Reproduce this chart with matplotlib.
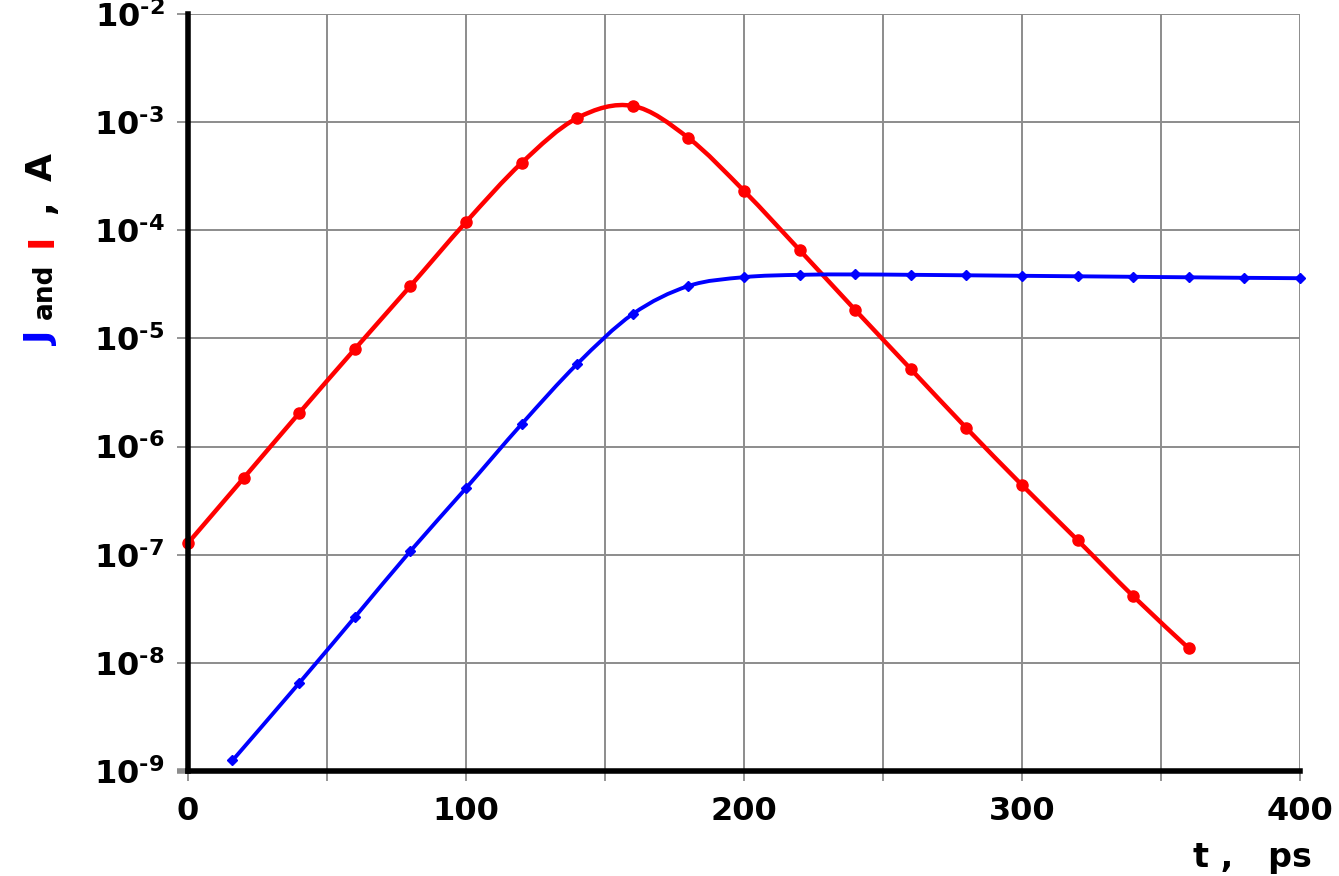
import numpy as np
import matplotlib
matplotlib.use('Agg')
import matplotlib.pyplot as plt
from matplotlib.path import Path
from matplotlib.patches import PathPatch
from matplotlib.ticker import MultipleLocator, NullLocator, FuncFormatter

# Current I (red) and J (blue) vs time, ps
t_I = [0, 20, 40, 60, 80, 100, 120, 140, 160, 180, 200, 220, 240, 260, 280, 300, 320, 340, 360]
I_vals = [1.28e-7, 5.1e-7, 2.04e-6, 7.96e-6, 3.05e-5, 1.19e-4, 4.19e-4, 1.09e-3, 1.41e-3, 7.13e-4,
          2.31e-4, 6.56e-5, 1.83e-5, 5.2e-6, 1.48e-6, 4.4e-7, 1.36e-7, 4.13e-8, 1.36e-8]

t_J = [16, 40, 60, 80, 100, 120, 140, 160, 180, 200, 220, 240, 260, 280, 300, 320, 340, 360, 380, 400]
J_vals = [1.25e-9, 6.5e-9, 2.64e-8, 1.08e-7, 4.12e-7, 1.61e-6, 5.8e-6, 1.68e-5, 3.05e-5, 3.68e-5,
          3.87e-5, 3.9e-5, 3.87e-5, 3.83e-5, 3.79e-5, 3.75e-5, 3.71e-5, 3.67e-5, 3.63e-5, 3.6e-5]

y_decades = [1e-9, 1e-8, 1e-7, 1e-6, 1e-5, 1e-4, 1e-3, 1e-2]

RED = '#ff0000'
BLUE = '#0000ff'
GRID = '#8c8c8c'

plt.rcParams.update({
    'font.family': ['DejaVu Sans'],
    'font.weight': 'bold',
    'mathtext.fontset': 'dejavusans',
    'mathtext.default': 'bf',
})


def smooth_path(x, y):
    """Catmull-Rom style Bezier through the points, built in (t, log10 y) space."""
    pts = np.column_stack([np.asarray(x, float), np.log10(y)])
    ext = np.vstack([pts[0], pts, pts[-1]])
    verts = [pts[0]]
    codes = [Path.MOVETO]
    for i in range(len(pts) - 1):
        p0, p1, p2, p3 = ext[i], ext[i + 1], ext[i + 2], ext[i + 3]
        verts += [p1 + (p2 - p0) / 6, p2 - (p3 - p1) / 6, p2]
        codes += [Path.CURVE4] * 3
    verts = np.array(verts)
    verts[:, 1] = 10 ** verts[:, 1]
    return Path(verts, codes)


def decade_label(v, pos):
    n = int(round(np.log10(v)))
    sign = '\u2010' if n < 0 else ''
    return r'$10^{%s%d}$' % (sign, abs(n))


fig = plt.figure(figsize=(13.39, 8.76), dpi=100)
ax = fig.add_axes([0.1404, 0.1199, 0.8305, 0.8642])
ax.set_yscale('log')
ax.set_xlim(0, 400)
ax.set_ylim(y_decades[0], y_decades[-1])

ax.add_patch(PathPatch(smooth_path(t_I, I_vals), fill=False, edgecolor=RED,
                       lw=3.2, capstyle='round', joinstyle='round', zorder=3))
ax.plot(t_I, I_vals, 'o', color=RED, ms=8, zorder=4, clip_on=False)

ax.add_patch(PathPatch(smooth_path(t_J, J_vals), fill=False, edgecolor=BLUE,
                       lw=2.8, capstyle='round', joinstyle='round', zorder=3))
ax.plot(t_J, J_vals, 'D', color=BLUE, ms=5.5, zorder=4, clip_on=False)

# axes, ticks and grid
ax.xaxis.set_major_locator(MultipleLocator(100))
ax.xaxis.set_minor_locator(MultipleLocator(50))
ax.set_yticks(y_decades)
ax.yaxis.set_minor_locator(NullLocator())
ax.yaxis.set_major_formatter(FuncFormatter(decade_label))

ax.grid(True, which='both', axis='x', color=GRID, lw=1.4)
ax.grid(True, which='major', axis='y', color=GRID, lw=1.4)
ax.set_axisbelow(True)

ax.tick_params(axis='x', which='both', direction='out', length=7, width=1.3,
               color=GRID, labelsize=23, pad=11)
ax.tick_params(axis='y', which='major', direction='out', length=8, width=1.3,
               color=GRID, labelsize=23, pad=9)

for side in ('top', 'right'):
    ax.spines[side].set_visible(False)
for side in ('left', 'bottom'):
    ax.spines[side].set_linewidth(4)
    ax.spines[side].set_color('black')
    ax.spines[side].set_zorder(5)

# axis titles are drawn as figure text below, so drop the empty ones
for axis in (ax.xaxis, ax.yaxis):
    axis.label.set_visible(False)
    axis.get_offset_text().set_visible(False)

fig.canvas.draw()
ax.xaxis.get_major_ticks()[0].tick1line.set_color('black')
ax.xaxis.get_major_ticks()[0].tick1line.set_markeredgewidth(4)
ax.yaxis.get_major_ticks()[0].tick1line.set_color('black')
ax.yaxis.get_major_ticks()[0].tick1line.set_markeredgewidth(4)

fig.text(0.98, 0.0103, 't ,   ps', ha='right', va='baseline', fontsize=24)

ylab_x = 0.0388
for s, yc, color, size in [('J', 0.614, BLUE, 26), ('and', 0.668, 'black', 19),
                           ('I', 0.726, RED, 26), (',', 0.764, 'black', 26),
                           ('A', 0.809, 'black', 26)]:
    fig.text(ylab_x, yc, s, rotation=90, rotation_mode='anchor', ha='center',
             va='baseline', color=color, fontsize=size)

fig.savefig('out.png', dpi=100)
